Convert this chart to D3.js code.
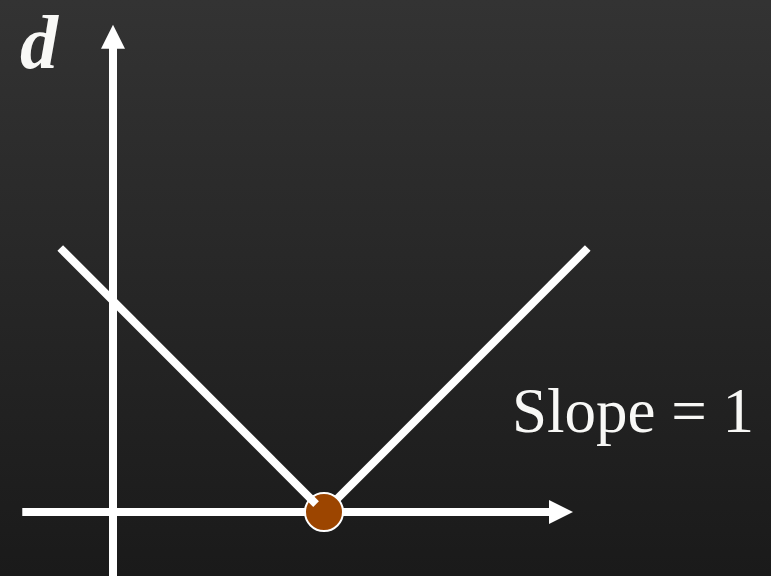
<!DOCTYPE html>
<html><head><meta charset="utf-8">
<script src="https://cdn.jsdelivr.net/npm/d3@7"></script>
<style>html,body{margin:0;padding:0;background:#222;}svg{display:block;}</style>
</head><body>
<script>
// Diagram data (data units)
const vertex = {x: 4, d: 0};
const leftSegment = [[-1, 5], [3.85, 0.15]];
const rightSegment = [[4, 0], [9, 5]];
const xAxisExtent = [-1.72, 8.72];
const yAxisExtent = [-1.21, 9.23];
const yLabel = "d";
const slopeLabel = "Slope = 1";

const W = 771, H = 576;
const svg = d3.select("body").append("svg").attr("width", W).attr("height", H);
const defs = svg.append("defs");
const grad = defs.append("linearGradient").attr("id", "bg").attr("x1", 0).attr("y1", 0).attr("x2", 0).attr("y2", 1);
grad.append("stop").attr("offset", "0%").attr("stop-color", "#333333");
grad.append("stop").attr("offset", "100%").attr("stop-color", "#1a1a1a");
svg.append("rect").attr("width", W).attr("height", H).attr("fill", "url(#bg)");

const x = d3.scaleLinear().domain([0, 4]).range([113, 324]);
const y = d3.scaleLinear().domain([0, 5]).range([512, 248]);

const lw = 8, ah = 24, aw = 12;
// x axis
const xTip = x(xAxisExtent[1]);
svg.append("line").attr("x1", x(xAxisExtent[0])).attr("x2", xTip - ah + 1)
  .attr("y1", y(0)).attr("y2", y(0)).attr("stroke", "#fff").attr("stroke-width", lw);
svg.append("path").attr("d", `M${xTip},${y(0)}L${xTip-ah},${y(0)-aw}L${xTip-ah},${y(0)+aw}Z`).attr("fill", "#fff");
// y axis
const yTip = y(yAxisExtent[1]);
svg.append("line").attr("x1", x(0)).attr("x2", x(0))
  .attr("y1", y(yAxisExtent[0])).attr("y2", yTip + ah - 1).attr("stroke", "#fff").attr("stroke-width", lw);
svg.append("path").attr("d", `M${x(0)},${yTip}L${x(0)-aw},${yTip+ah}L${x(0)+aw},${yTip+ah}Z`).attr("fill", "#fff");

const line = d3.line().x(d => x(d[0])).y(d => y(d[1]));
svg.append("path").attr("d", line(rightSegment)).attr("stroke", "#fff").attr("stroke-width", lw).attr("fill", "none");
svg.append("circle").attr("cx", x(vertex.x)).attr("cy", y(vertex.d)).attr("r", 19)
  .attr("fill", "#9c4500").attr("stroke", "#fff").attr("stroke-width", 2);
svg.append("path").attr("d", line(leftSegment)).attr("stroke", "#fff").attr("stroke-width", lw).attr("fill", "none");

svg.append("text").attr("x", 20).attr("y", 67.5).text(yLabel)
  .attr("font-family", "Liberation Serif, serif").attr("font-style", "italic").attr("font-weight", "bold")
  .attr("font-size", 76).attr("fill", "#f8f8f6");
svg.append("text").attr("x", 512).attr("y", 432).text(slopeLabel)
  .attr("font-family", "Liberation Serif, serif").attr("font-size", 63).attr("fill", "#f8f8f6");
</script>
</body></html>
